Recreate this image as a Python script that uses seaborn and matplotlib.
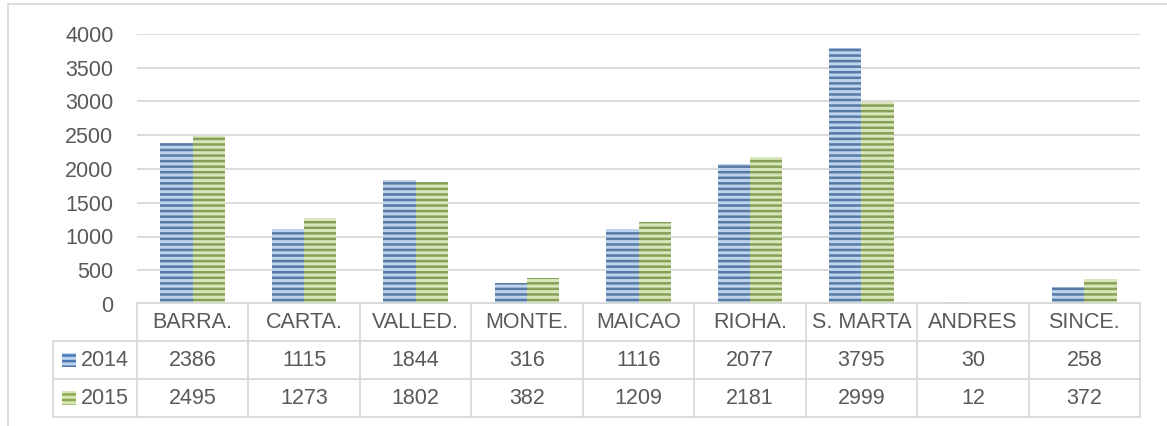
import pandas as pd
import matplotlib.pyplot as plt
import seaborn as sb
from matplotlib.patches import Rectangle
from matplotlib.lines import Line2D

# data
cities = ['BARRA.', 'CARTA.', 'VALLED.', 'MONTE.', 'MAICAO', 'RIOHA.', 'S. MARTA', 'ANDRES', 'SINCE.']
years = ['2014', '2015']
v2014 = [2386, 1115, 1844, 316, 1116, 2077, 3795, 30, 258]
v2015 = [2495, 1273, 1802, 382, 1209, 2181, 2999, 12, 372]
yticks = [0, 500, 1000, 1500, 2000, 2500, 3000, 3500, 4000]

face = {'2014': '#4A78B2', '2015': '#8CAB4E'}
stripe = {'2014': '#BDD2EC', '2015': '#D8E7BA'}
grid_c = '#D9D9D9'
text_c = '#595959'
fs = 15.5

df = pd.DataFrame({'city': cities * 2,
                   'year': ['2014'] * len(cities) + ['2015'] * len(cities),
                   'value': v2014 + v2015})

sb.set_style('white')
plt.rcParams['font.family'] = ['Liberation Sans', 'DejaVu Sans']
plt.rcParams['hatch.linewidth'] = 2.2

W, H = 1167, 426
fig = plt.figure(figsize=(W / 100, H / 100), dpi=100)

# plot area in pixels
x0, x1 = 137, 1140
ytop, ybot = 34, 304
ax = fig.add_axes([x0 / W, (H - ybot) / H, (x1 - x0) / W, (ybot - ytop) / H])

g = sb.barplot(data=df, x='city', y='value', hue='year', palette=face,
               width=0.58, gap=0, legend=False, ax=ax, zorder=3)
for cont, yr in zip(g.containers, years):
    for p in cont:
        p.set_hatch('---')
        p.set_edgecolor(stripe[yr])
        p.set_linewidth(0)

ax.set_ylim(0, 4000)
ax.set_xlim(-0.5, len(cities) - 0.5)
ax.set_yticks(yticks)
ax.set_yticklabels([str(t) for t in yticks], fontsize=fs, color=text_c)
ax.tick_params(axis='y', length=0, pad=17)
ax.set_xticks([])
ax.set_xlabel('')
ax.set_ylabel('')
ax.grid(axis='y', color=grid_c, linewidth=1.3, zorder=0)
ax.set_axisbelow(True)
for s in ax.spines.values():
    s.set_visible(False)


# helpers in pixel coordinates (origin top-left)
def px_line(xa, ya, xb, yb, lw=1.3, c=grid_c):
    fig.add_artist(Line2D([xa / W, xb / W], [1 - ya / H, 1 - yb / H],
                          transform=fig.transFigure, color=c, linewidth=lw))


def px_text(x, y, s, ha='center'):
    fig.text(x / W, 1 - y / H, s, ha=ha, va='center', fontsize=fs, color=text_c)


# data table under the chart
col_w = (x1 - x0) / len(cities)
rows = [303, 341, 379, 417]
lab_x = 53

px_line(x0, rows[0], x1, rows[0])
for r in rows[1:]:
    px_line(lab_x, r, x1, r)
px_line(lab_x, rows[1], lab_x, rows[3])
for i in range(len(cities) + 1):
    px_line(x0 + i * col_w, rows[0], x0 + i * col_w, rows[3])

for i, c in enumerate(cities):
    cx = x0 + (i + 0.5) * col_w
    px_text(cx, (rows[0] + rows[1]) / 2 + 1, c)
    px_text(cx, (rows[1] + rows[2]) / 2 + 1, str(v2014[i]))
    px_text(cx, (rows[2] + rows[3]) / 2 + 1, str(v2015[i]))

for k, yr in enumerate(years):
    cy = (rows[k + 1] + rows[k + 2]) / 2
    fig.add_artist(Rectangle((62 / W, 1 - (cy + 7) / H), 14 / W, 14 / H,
                             transform=fig.transFigure, facecolor=face[yr],
                             edgecolor=stripe[yr], hatch='---', linewidth=0))
    px_text(81, cy + 1, yr, ha='left')

# outer chart border (cut at right and bottom)
px_line(8, 4, W, 4)
px_line(8, 4, 8, H)

plt.savefig('out.png', dpi=100)
